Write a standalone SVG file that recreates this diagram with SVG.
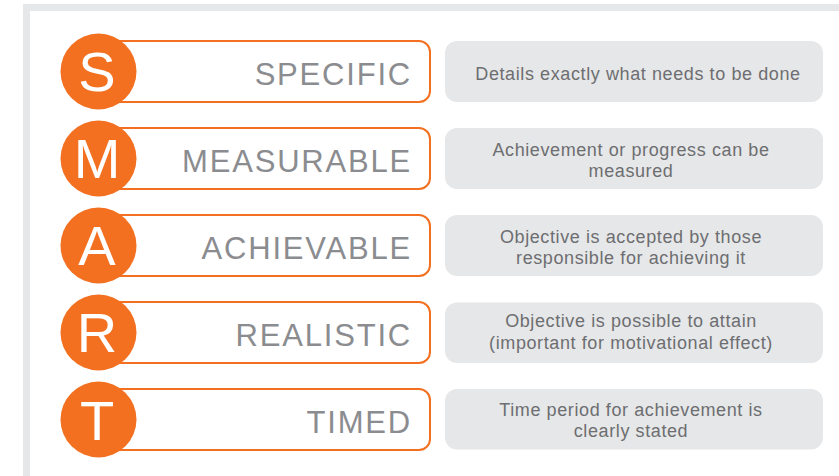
<svg xmlns="http://www.w3.org/2000/svg" width="839" height="476" viewBox="0 0 839 476">
<style>
.pill{fill:#ffffff;stroke:#f37021;stroke-width:2}
.dot{fill:#f37021}
.box{fill:#e6e7e8}
.ltr{font-family:"Liberation Sans",Arial,sans-serif;font-size:56px;fill:#ffffff;text-anchor:middle}
.ttl{font-family:"Liberation Sans",Arial,sans-serif;font-size:31px;fill:#8b8c8f;text-anchor:end;letter-spacing:1.8px}
.dsc{font-family:"Liberation Sans",Arial,sans-serif;font-size:18px;fill:#6d6e71;text-anchor:middle;letter-spacing:0.6px}
</style>
<rect x="0" y="0" width="839" height="476" fill="#ffffff"/>
<rect x="23" y="4" width="830" height="490" fill="#e6e7e8"/>
<rect x="30" y="11" width="830" height="490" fill="#ffffff"/>
<g id="connectors"></g>
<g id="node-s">
<rect class="pill" x="100" y="41" width="330" height="61" rx="11"/>
<circle class="dot" cx="98.5" cy="71.5" r="38"/>
<text class="ltr" x="97" y="91">S</text>
<text class="ttl" x="412" y="85">SPECIFIC</text>
<rect class="box" x="445" y="41" width="378" height="61" rx="12"/>
<text class="dsc" x="638" y="80">Details exactly what needs to be done</text>
</g>
<g id="node-m">
<rect class="pill" x="100" y="128" width="330" height="61" rx="11"/>
<circle class="dot" cx="98.5" cy="158.5" r="38"/>
<text class="ltr" x="97" y="178">M</text>
<text class="ttl" x="412" y="172">MEASURABLE</text>
<rect class="box" x="445" y="128" width="378" height="61" rx="12"/>
<text class="dsc" x="631" y="156">Achievement or progress can be</text>
<text class="dsc" x="631" y="177">measured</text>
</g>
<g id="node-a">
<rect class="pill" x="100" y="215" width="330" height="61" rx="11"/>
<circle class="dot" cx="98.5" cy="245.5" r="38"/>
<text class="ltr" x="97" y="265">A</text>
<text class="ttl" x="412" y="259">ACHIEVABLE</text>
<rect class="box" x="445" y="215" width="378" height="61" rx="12"/>
<text class="dsc" x="631" y="243">Objective is accepted by those</text>
<text class="dsc" x="631" y="264">responsible for achieving it</text>
</g>
<g id="node-r">
<rect class="pill" x="100" y="302" width="330" height="61" rx="11"/>
<circle class="dot" cx="98.5" cy="332.5" r="38"/>
<text class="ltr" x="97" y="352">R</text>
<text class="ttl" x="412" y="346">REALISTIC</text>
<rect class="box" x="445" y="302.5" width="378" height="60.5" rx="12"/>
<text class="dsc" x="631" y="327">Objective is possible to attain</text>
<text class="dsc" x="631" y="349">(important for motivational effect)</text>
</g>
<g id="node-t">
<rect class="pill" x="100" y="389" width="330" height="61" rx="11"/>
<circle class="dot" cx="98.5" cy="419.5" r="38"/>
<text class="ltr" x="97" y="440">T</text>
<text class="ttl" x="412" y="433">TIMED</text>
<rect class="box" x="445" y="389" width="378" height="60.5" rx="12"/>
<text class="dsc" x="631" y="416">Time period for achievement is</text>
<text class="dsc" x="631" y="437">clearly stated</text>
</g>
</svg>
